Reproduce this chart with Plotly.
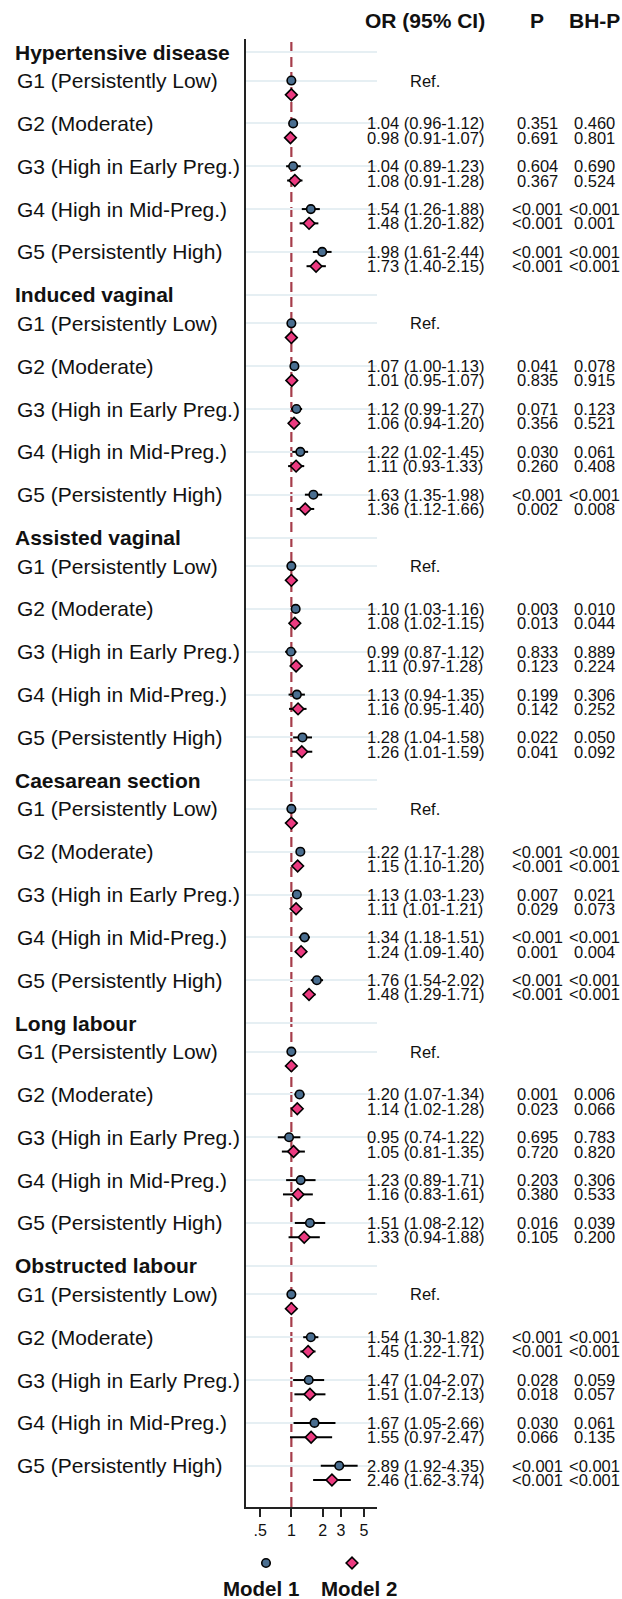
import plotly.graph_objects as go

# ---------------- data ----------------
outcomes = ["Hypertensive disease", "Induced vaginal", "Assisted vaginal",
            "Caesarean section", "Long labour", "Obstructed labour"]
groups = ["G1 (Persistently Low)", "G2 (Moderate)", "G3 (High in Early Preg.)",
          "G4 (High in Mid-Preg.)", "G5 (Persistently High)"]

# values for G2..G5 (G1 is the reference group, OR = 1)
m1_or = [[1.04, 1.04, 1.54, 1.98], [1.07, 1.12, 1.22, 1.63], [1.10, 0.99, 1.13, 1.28],
         [1.22, 1.13, 1.34, 1.76], [1.20, 0.95, 1.23, 1.51], [1.54, 1.47, 1.67, 2.89]]
m1_lo = [[0.96, 0.89, 1.26, 1.61], [1.00, 0.99, 1.02, 1.35], [1.03, 0.87, 0.94, 1.04],
         [1.17, 1.03, 1.18, 1.54], [1.07, 0.74, 0.89, 1.08], [1.30, 1.04, 1.05, 1.92]]
m1_hi = [[1.12, 1.23, 1.88, 2.44], [1.13, 1.27, 1.45, 1.98], [1.16, 1.12, 1.35, 1.58],
         [1.28, 1.23, 1.51, 2.02], [1.34, 1.22, 1.71, 2.12], [1.82, 2.07, 2.66, 4.35]]
m1_p = [["0.351", "0.604", "<0.001", "<0.001"], ["0.041", "0.071", "0.030", "<0.001"],
        ["0.003", "0.833", "0.199", "0.022"], ["<0.001", "0.007", "<0.001", "<0.001"],
        ["0.001", "0.695", "0.203", "0.016"], ["<0.001", "0.028", "0.030", "<0.001"]]
m1_bh = [["0.460", "0.690", "<0.001", "<0.001"], ["0.078", "0.123", "0.061", "<0.001"],
         ["0.010", "0.889", "0.306", "0.050"], ["<0.001", "0.021", "<0.001", "<0.001"],
         ["0.006", "0.783", "0.306", "0.039"], ["<0.001", "0.059", "0.061", "<0.001"]]

m2_or = [[0.98, 1.08, 1.48, 1.73], [1.01, 1.06, 1.11, 1.36], [1.08, 1.11, 1.16, 1.26],
         [1.15, 1.11, 1.24, 1.48], [1.14, 1.05, 1.16, 1.33], [1.45, 1.51, 1.55, 2.46]]
m2_lo = [[0.91, 0.91, 1.20, 1.40], [0.95, 0.94, 0.93, 1.12], [1.02, 0.97, 0.95, 1.01],
         [1.10, 1.01, 1.09, 1.29], [1.02, 0.81, 0.83, 0.94], [1.22, 1.07, 0.97, 1.62]]
m2_hi = [[1.07, 1.28, 1.82, 2.15], [1.07, 1.20, 1.33, 1.66], [1.15, 1.28, 1.40, 1.59],
         [1.20, 1.21, 1.40, 1.71], [1.28, 1.35, 1.61, 1.88], [1.71, 2.13, 2.47, 3.74]]
m2_p = [["0.691", "0.367", "<0.001", "<0.001"], ["0.835", "0.356", "0.260", "0.002"],
        ["0.013", "0.123", "0.142", "0.041"], ["<0.001", "0.029", "0.001", "<0.001"],
        ["0.023", "0.720", "0.380", "0.105"], ["<0.001", "0.018", "0.066", "<0.001"]]
m2_bh = [["0.801", "0.524", "0.001", "<0.001"], ["0.915", "0.521", "0.408", "0.008"],
         ["0.044", "0.224", "0.252", "0.092"], ["<0.001", "0.073", "0.004", "<0.001"],
         ["0.066", "0.820", "0.533", "0.200"], ["<0.001", "0.057", "0.135", "<0.001"]]

tick_vals = [0.5, 1, 2, 3, 5]
tick_text = [".5", "1", "2", "3", "5"]
col_headers = ["OR (95% CI)", "P", "BH-P"]
model_names = ["Model 1", "Model 2"]

# ---------------- layout constants ----------------
W, H = 622, 1599
PL, PR, PT = 246, 245, 39
PW = W - PL - PR
AREA_H = H - PT
PLOT_BOTTOM = 1507
FONT = "Liberation Sans, Arial, Helvetica, sans-serif"
TXT = "#111111"
C1 = "#4a6e90"
C2 = "#ec3a80"
SEC = 17  # rows per outcome block


def px_x(px):
    return (px - PL) / PW


def px_y(py):
    return (H - py) / AREA_H


# ---------------- build rows ----------------
x1, y1, ep1, em1 = [], [], [], []
x2, y2, ep2, em2 = [], [], [], []
grid_rows = []
ann = []

for s, name in enumerate(outcomes):
    hy = SEC * s
    grid_rows.append(hy)
    ann.append(dict(x=px_x(13), y=hy, xref="paper", yref="y", text="<b>%s</b>" % name,
                    xanchor="left", yanchor="middle", showarrow=False,
                    font=dict(size=21, color=TXT, family=FONT)))
    for g, gname in enumerate(groups):
        ya = hy + 2 + 3 * g
        yb = ya + 1
        grid_rows.append(ya)
        ann.append(dict(x=px_x(15), y=ya, xref="paper", yref="y", text=gname,
                        xanchor="left", yanchor="middle", showarrow=False,
                        font=dict(size=21, color=TXT, family=FONT)))
        if g == 0:
            x1.append(1.0); y1.append(ya); ep1.append(0); em1.append(0)
            x2.append(1.0); y2.append(yb); ep2.append(0); em2.append(0)
            ann.append(dict(x=px_x(425), y=ya, xref="paper", yref="y", text="Ref.",
                            xanchor="center", yanchor="middle", showarrow=False,
                            font=dict(size=16.5, color=TXT, family=FONT)))
            continue
        k = g - 1
        for (orv, lo, hi, p, bh, xs, ys, eps, ems, yy) in [
                (m1_or[s][k], m1_lo[s][k], m1_hi[s][k], m1_p[s][k], m1_bh[s][k], x1, y1, ep1, em1, ya),
                (m2_or[s][k], m2_lo[s][k], m2_hi[s][k], m2_p[s][k], m2_bh[s][k], x2, y2, ep2, em2, yb)]:
            xs.append(orv); ys.append(yy); eps.append(hi - orv); ems.append(orv - lo)
            for txt, cx in [("%.2f (%.2f-%.2f)" % (orv, lo, hi), 425), (p, 537), (bh, 594)]:
                ann.append(dict(x=px_x(cx), y=yy, xref="paper", yref="y", text=txt,
                                xanchor="center", yanchor="middle", showarrow=False,
                                font=dict(size=16.5, color=TXT, family=FONT)))

# column headers
for txt, cx in zip(col_headers, [425, 537, 594]):
    ann.append(dict(x=px_x(cx), y=px_y(20), xref="paper", yref="paper",
                    text="<b>%s</b>" % txt, xanchor="center", yanchor="middle",
                    showarrow=False, font=dict(size=21, color=TXT, family=FONT)))

# legend labels
for txt, cx in zip(model_names, [261, 359]):
    ann.append(dict(x=px_x(cx), y=px_y(1588), xref="paper", yref="paper",
                    text="<b>%s</b>" % txt, xanchor="center", yanchor="middle",
                    showarrow=False, font=dict(size=20.5, color=TXT, family=FONT)))

fig = go.Figure()
err_style = dict(type="data", symmetric=False, color="black", thickness=2, width=0)
fig.add_trace(go.Scatter(
    x=x1, y=y1, mode="markers", showlegend=False,
    error_x=dict(array=ep1, arrayminus=em1, **err_style),
    marker=dict(symbol="circle", size=8.5, color=C1, line=dict(color="black", width=1.6))))
fig.add_trace(go.Scatter(
    x=x2, y=y2, mode="markers", showlegend=False,
    error_x=dict(array=ep2, arrayminus=em2, **err_style),
    marker=dict(symbol="diamond", size=9, color=C2, line=dict(color="black", width=1.6))))

# custom legend markers
fig.add_trace(go.Scatter(x=[266], y=[1563], xaxis="x2", yaxis="y2", mode="markers",
                         showlegend=False, cliponaxis=False,
                         marker=dict(symbol="circle", size=8.5, color=C1,
                                     line=dict(color="black", width=1.6))))
fig.add_trace(go.Scatter(x=[352], y=[1563], xaxis="x2", yaxis="y2", mode="markers",
                         showlegend=False, cliponaxis=False,
                         marker=dict(symbol="diamond", size=9, color=C2,
                                     line=dict(color="black", width=1.6))))

unit = 14.28
y_range = [(PLOT_BOTTOM - 52) / unit, (PT - 52) / unit]

fig.update_layout(
    width=W, height=H, autosize=False,
    margin=dict(l=PL, r=PR, t=PT, b=0, pad=0),
    paper_bgcolor="white", plot_bgcolor="white",
    font=dict(family=FONT, color=TXT),
    annotations=ann,
    xaxis=dict(type="log", range=[-0.437, 0.825], domain=[0, 1], anchor="y",
               tickvals=tick_vals, ticktext=tick_text, ticks="outside", ticklen=8,
               tickwidth=1.5, tickcolor="#222", showline=True, linecolor="#222",
               linewidth=1.6, showgrid=False, zeroline=False,
               tickfont=dict(size=16, color=TXT, family=FONT)),
    yaxis=dict(domain=[(H - PLOT_BOTTOM) / AREA_H, 1], range=y_range, anchor="x",
               tickvals=grid_rows, showticklabels=False, ticks="",
               showgrid=True, gridcolor="#e6eff3", gridwidth=1.5,
               showline=True, linecolor="#222", linewidth=1.6, zeroline=False),
    xaxis2=dict(domain=[0, 1], range=[PL, PL + PW], anchor="y2", visible=False),
    yaxis2=dict(domain=[0, (H - PLOT_BOTTOM) / AREA_H], range=[H, PLOT_BOTTOM],
                anchor="x2", visible=False),
    shapes=[dict(type="line", xref="x", yref="paper", x0=1, x1=1,
                 y0=(H - PLOT_BOTTOM) / AREA_H, y1=1,
                 line=dict(color="#a63d4b", width=2.2, dash="10px,5px"), layer="below")],
)

fig.write_html("out.html")
